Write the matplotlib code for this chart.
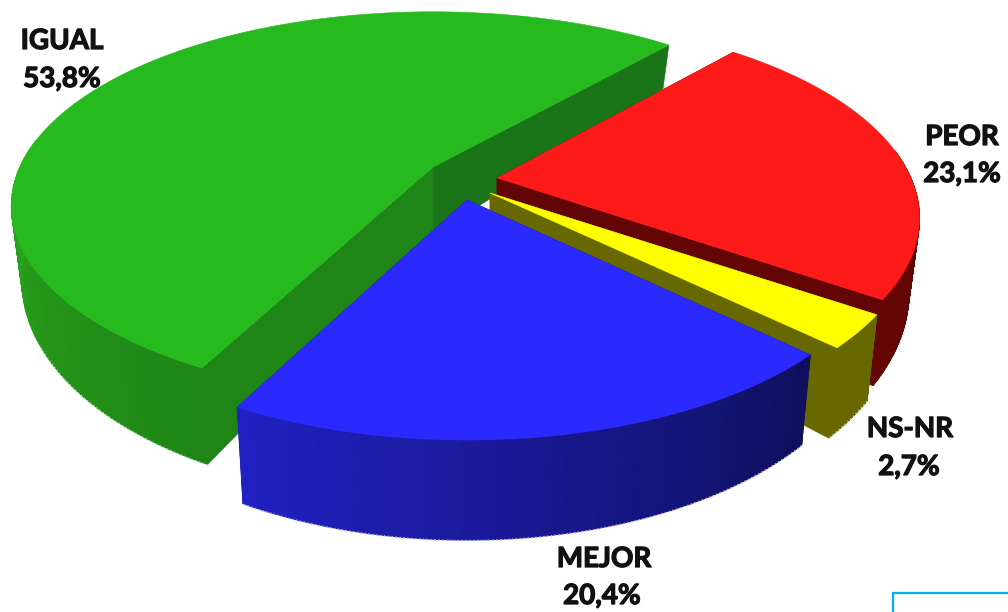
import numpy as np
import matplotlib
matplotlib.use('Agg')
import matplotlib.pyplot as plt
import matplotlib.patheffects as pe
from matplotlib.colors import LinearSegmentedColormap

# Datos del grafico
categorias = ['IGUAL', 'PEOR', 'NS-NR', 'MEJOR']
porcentajes = [53.8, 23.1, 2.7, 20.4]
etiquetas = ['53,8%', '23,1%', '2,7%', '20,4%']

# Geometria de la torta en pixeles
apices = {'IGUAL': (433, 167), 'PEOR': (497, 178), 'NS-NR': (490, 193), 'MEJOR': (467, 200)}
ANGULO_INICIO = 117.4
RX, RY, P = 409, 192, 0.2
ESCALA_BASE = 0.975
escala_x = {'IGUAL': 1.01, 'PEOR': 1.012, 'NS-NR': 1.015, 'MEJOR': 1.004}
escala_y = {'IGUAL': 0.97, 'PEOR': 1.0, 'NS-NR': 1.0, 'MEJOR': 1.0}

colores_top = {'IGUAL': '#26BA1E', 'PEOR': '#FF1A1A', 'NS-NR': '#FFFF00', 'MEJOR': '#2A2AFF'}
# color de la pared exterior: (en el angulo inicial, en el angulo final)
colores_pared = {
    'IGUAL': ('#1E8516', '#2CA81E'),
    'PEOR': ('#640505', '#640505'),
    'NS-NR': ('#686800', '#686800'),
    'MEJOR': ('#0F0F5C', '#2121C3'),
}
colores_corte = {'IGUAL': ('#1E8516', '#1A7518'), 'PEOR': ('#640505', '#640505'),
                 'NS-NR': ('#686800', '#686800'), 'MEJOR': ('#15157A', '#15157A')}
colores_filo = {'IGUAL': '#A8D8A0', 'NS-NR': '#C8C890', 'MEJOR': '#A8A8DC'}

pos_nombre = {'IGUAL': (62, 41), 'PEOR': (962, 137), 'NS-NR': (910, 429), 'MEJOR': (604, 559)}
pos_valor = {'IGUAL': (62, 79), 'PEOR': (962, 174), 'NS-NR': (909, 467), 'MEJOR': (602, 596)}


# Proyeccion en perspectiva de un punto del borde
def borde(cat, angulos):
    centro = apices[cat]
    a = np.radians(angulos)
    x, y = np.cos(a), np.sin(a)
    w = 1 - P * y
    return centro[0] + RX * escala_x[cat] * x / w, centro[1] + RY * escala_y[cat] * y / w, y


# Punto correspondiente en la base de la torta
def base(centro, xs, ys, yp):
    return centro[0] + (xs - centro[0]) * ESCALA_BASE, ys + 68 + 32 * yp


def pared_radial(ax, centro, x_ext, y_ext, yp_ext, color, z):
    xb, yb = base(centro, x_ext, y_ext, yp_ext)
    xa, ya = base(centro, centro[0], centro[1], 0)
    ax.fill([centro[0], x_ext, xb, xa], [centro[1], y_ext, yb, ya],
            color=color, lw=0.4, zorder=z)


fig = plt.figure(figsize=(10.08, 6.12), dpi=100)
ax = fig.add_axes([0, 0, 1, 1])
ax.axis('off')

# Angulos de cada porcion a partir de los porcentajes
limites = ANGULO_INICIO + np.cumsum([0] + porcentajes) * 3.6
rebanadas = {c: (limites[i], limites[i + 1]) for i, c in enumerate(categorias)}

# Orden de dibujo: de atras hacia adelante
z = 1
for cat in categorias:
    a0, a1 = rebanadas[cat]
    centro = apices[cat]
    angs = np.linspace(a0, a1, 200)
    xs, ys, yp = borde(cat, angs)
    xb, yb = base(centro, xs, ys, yp)

    # Paredes de corte (el inicio y el final de la porcion)
    pared_radial(ax, centro, xs[-1], ys[-1], yp[-1], colores_corte[cat][1], z)
    pared_radial(ax, centro, xs[0], ys[0], yp[0], colores_corte[cat][0], z + 0.1)

    # Pared exterior con degradado, solo la parte que mira al frente
    visibles = yp > -0.15
    t = np.linspace(0, 1, len(angs))
    if cat == 'IGUAL':
        # se aclara hasta el lado izquierdo y luego queda oculta
        t = np.minimum(t / 0.33, 1)
    mapa = LinearSegmentedColormap.from_list(cat, colores_pared[cat])
    ax.pcolormesh(np.vstack([xs[visibles], xb[visibles]]), np.vstack([ys[visibles], yb[visibles]]),
                  np.vstack([t[visibles], t[visibles]]), cmap=mapa, vmin=0, vmax=1,
                  shading='gouraud', zorder=z + 0.2)

    # Filo claro punteado en la base
    if cat in colores_filo:
        frente = yp > 0.45
        ax.plot(xb[frente], yb[frente] + 0.5, color=colores_filo[cat], lw=1.0,
                ls=(0, (1.2, 1.6)), zorder=z + 0.3)

    # Cara superior
    ax.fill(np.r_[centro[0], xs], np.r_[centro[1], ys], color=colores_top[cat], lw=0.4, zorder=z + 0.4)
    z += 1

# Etiquetas
for cat, txt in zip(categorias, etiquetas):
    for (x, y), s in ((pos_nombre[cat], cat), (pos_valor[cat], txt)):
        ax.text(x, y, s, ha='center', va='center', fontsize=20, fontweight='bold',
                family='Lato', color='#111111', zorder=20,
                path_effects=[pe.withStroke(linewidth=0.9, foreground='#111111')])

# Recuadro celeste cortado en la esquina
ax.plot([893, 893, 1008], [612, 593, 593], color='#00B0F0', lw=1.6, solid_joinstyle='miter', zorder=20)

ax.set_xlim(0, 1008)
ax.set_ylim(612, 0)

fig.savefig('out.png', dpi=100)
